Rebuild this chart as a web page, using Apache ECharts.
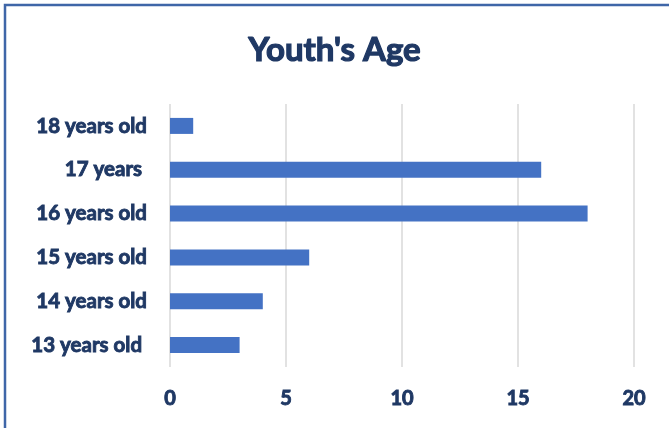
<!DOCTYPE html>
<html><head><meta charset="utf-8">
<script src="https://cdn.jsdelivr.net/npm/echarts@6/dist/echarts.min.js"></script>
<style>html,body{margin:0;padding:0;background:#fff}#c{width:669px;height:428px}</style>
</head><body><div id="c"></div>
<script>
const categories = ['13 years old ', '14 years old', '15 years old', '16 years old', '17 years ', '18 years old'];
const values = [3, 4, 6, 18, 16, 1];
const xTicks = {min: 0, max: 20, interval: 5};
const titleText = "Youth's Age";

const chart = echarts.init(document.getElementById('c'));
const navy = '#1f3864';
const heavy = {fontFamily: 'Lato', fontWeight: 'bold', color: navy, textBorderColor: navy, textBorderWidth: 0.9};
chart.setOption({
  animation: false,
  backgroundColor: '#fff',
  title: {text: titleText, left: 'center', top: 29,
    textStyle: Object.assign({}, heavy, {fontSize: 33, textBorderWidth: 1.2})},
  grid: {left: 170, right: 35, top: 104, bottom: 61},
  xAxis: {type: 'value', min: xTicks.min, max: xTicks.max, interval: xTicks.interval,
    axisLine: {show: false}, axisTick: {show: false},
    splitLine: {lineStyle: {color: '#d9d9d9', width: 1.5}},
    axisLabel: Object.assign({margin: 22, fontSize: 20}, heavy)},
  yAxis: {type: 'category', data: categories,
    axisLine: {show: false}, axisTick: {show: false},
    axisLabel: Object.assign({margin: 23, fontSize: 20.5}, heavy)},
  series: [{type: 'bar', data: values, barWidth: 16, itemStyle: {color: '#4472c4'}}],
  graphic: [{type: 'polyline', shape: {points: [[5, 430], [5, 5], [672, 5]]},
    style: {stroke: '#3f66a8', lineWidth: 2.5, fill: null}}]
});
</script></body></html>
